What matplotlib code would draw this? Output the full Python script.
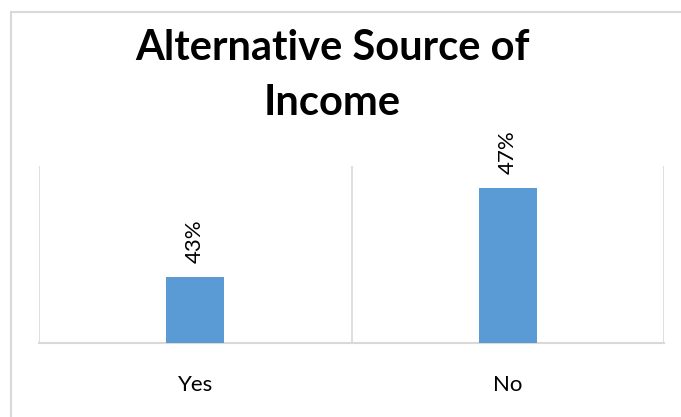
import matplotlib
matplotlib.use("Agg")
import matplotlib.pyplot as plt
from matplotlib.lines import Line2D

categories = ["Yes", "No"]
shares = [43, 47]
value_labels = ["43%", "47%"]
title_lines = ["Alternative Source of", "Income"]

W, H = 681, 417
BAR_COLOR = "#5b9bd5"
GRID = "#d9d9d9"
FONT = "Lato"

fig = plt.figure(figsize=(W / 100, H / 100), dpi=100)
fig.patch.set_facecolor("white")

# plot area in pixel terms
left, right, top, base = 39, 664, 166, 343
ax = fig.add_axes([left / W, (H - base) / H, (right - left) / W, (base - top) / H])

x = list(range(len(categories)))
bars = ax.bar(x, shares, width=0.185, color=BAR_COLOR, zorder=3)
ax.set_xlim(-0.5, len(categories) - 0.5)
ax.set_ylim(40, 48)

# vertical category separators
for sep in [i - 0.5 for i in range(len(categories) + 1)]:
    ax.axvline(sep, color=GRID, lw=1.2, zorder=1)

for s in ["top", "left", "right"]:
    ax.spines[s].set_visible(False)
ax.spines["bottom"].set_color(GRID)
ax.spines["bottom"].set_linewidth(1.5)
ax.set_yticks([])
ax.set_xticks(x)
ax.set_xticklabels(categories, fontsize=16, family=FONT)
ax.tick_params(axis="x", length=0, pad=23)

for b, lab in zip(bars, value_labels):
    ax.annotate(lab, (b.get_x() + b.get_width() / 2, b.get_height()),
                xytext=(0, 10), textcoords="offset points",
                rotation=90, ha="center", va="bottom",
                fontsize=16, family=FONT)

# title, two lines
fig.text(332 / W, 1 - 60 / H, title_lines[0], ha="center", va="baseline",
         fontsize=30, fontweight="bold", family=FONT)
fig.text(332 / W, 1 - 115 / H, title_lines[1], ha="center", va="baseline",
         fontsize=30, fontweight="bold", family=FONT)

# chart frame (left and top edges)
fig.add_artist(Line2D([11 / W, 11 / W], [0, 1 - 12 / H], transform=fig.transFigure,
                      color=GRID, lw=1.5))
fig.add_artist(Line2D([11 / W, 1], [1 - 12 / H, 1 - 12 / H], transform=fig.transFigure,
                      color=GRID, lw=1.5))

fig.savefig("out.png", dpi=100)
